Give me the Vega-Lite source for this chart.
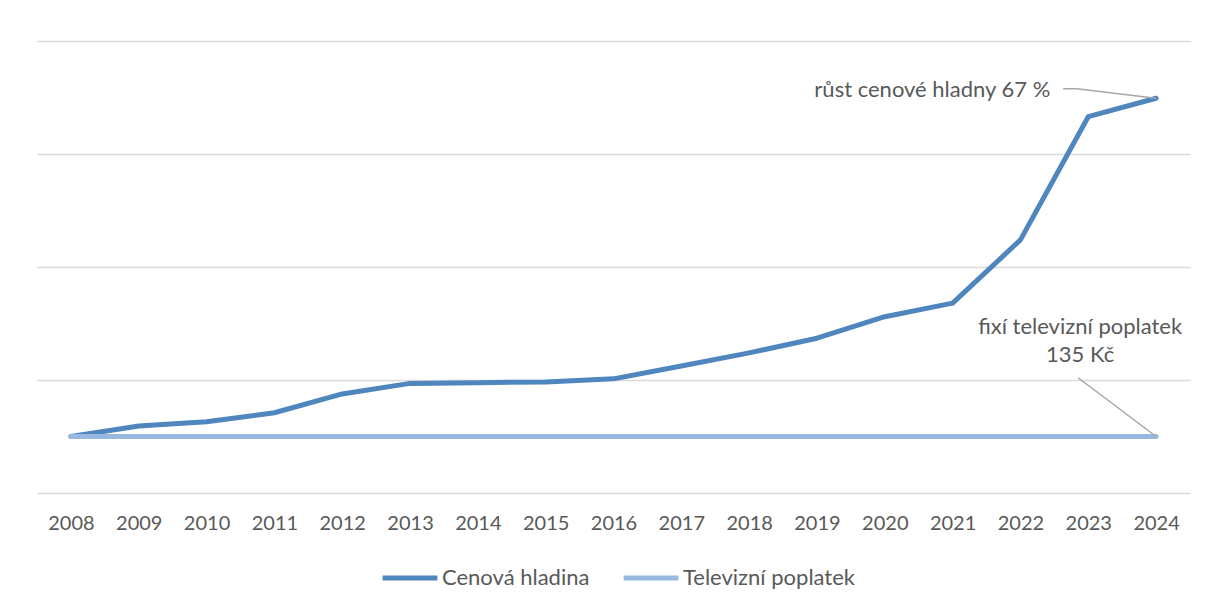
{
  "$schema": "https://vega.github.io/schema/vega-lite/v6.json",
  "width": 1153,
  "height": 452,
  "autosize": {"type": "none"},
  "padding": {"left": 37, "top": 41, "right": 18, "bottom": 115},
  "background": "white",
  "config": {"view": {"stroke": null}, "font": "Lato"},
  "datasets": {
    "series": [
      {"year": 2008, "series": "Cenová hladina", "value": 135.0},
      {"year": 2009, "series": "Cenová hladina", "value": 137.8},
      {"year": 2010, "series": "Cenová hladina", "value": 138.9},
      {"year": 2011, "series": "Cenová hladina", "value": 141.3},
      {"year": 2012, "series": "Cenová hladina", "value": 146.3},
      {"year": 2013, "series": "Cenová hladina", "value": 149.1},
      {"year": 2014, "series": "Cenová hladina", "value": 149.3},
      {"year": 2015, "series": "Cenová hladina", "value": 149.5},
      {"year": 2016, "series": "Cenová hladina", "value": 150.3},
      {"year": 2017, "series": "Cenová hladina", "value": 153.7},
      {"year": 2018, "series": "Cenová hladina", "value": 157.2},
      {"year": 2019, "series": "Cenová hladina", "value": 161.1},
      {"year": 2020, "series": "Cenová hladina", "value": 166.8},
      {"year": 2021, "series": "Cenová hladina", "value": 170.4},
      {"year": 2022, "series": "Cenová hladina", "value": 187.2},
      {"year": 2023, "series": "Cenová hladina", "value": 219.9},
      {"year": 2024, "series": "Cenová hladina", "value": 224.8},
      {"year": 2008, "series": "Televizní poplatek", "value": 135},
      {"year": 2009, "series": "Televizní poplatek", "value": 135},
      {"year": 2010, "series": "Televizní poplatek", "value": 135},
      {"year": 2011, "series": "Televizní poplatek", "value": 135},
      {"year": 2012, "series": "Televizní poplatek", "value": 135},
      {"year": 2013, "series": "Televizní poplatek", "value": 135},
      {"year": 2014, "series": "Televizní poplatek", "value": 135},
      {"year": 2015, "series": "Televizní poplatek", "value": 135},
      {"year": 2016, "series": "Televizní poplatek", "value": 135},
      {"year": 2017, "series": "Televizní poplatek", "value": 135},
      {"year": 2018, "series": "Televizní poplatek", "value": 135},
      {"year": 2019, "series": "Televizní poplatek", "value": 135},
      {"year": 2020, "series": "Televizní poplatek", "value": 135},
      {"year": 2021, "series": "Televizní poplatek", "value": 135},
      {"year": 2022, "series": "Televizní poplatek", "value": 135},
      {"year": 2023, "series": "Televizní poplatek", "value": 135},
      {"year": 2024, "series": "Televizní poplatek", "value": 135}
    ],
    "leaders": [
      {"id": "a", "year": 2022.63, "value": 227.3},
      {"id": "a", "year": 2022.83, "value": 227.3},
      {"id": "a", "year": 2024, "value": 224.8},
      {"id": "b", "year": 2022.85, "value": 150.6},
      {"id": "b", "year": 2024, "value": 135}
    ],
    "labelRight": [
      {"year": 2022.44, "value": 227.0, "text": "růst cenové hladny 67 %"}
    ],
    "labelCenter": [
      {"year": 2022.88, "value": 164.1, "text": "fixí televizní poplatek\n135 Kč"}
    ]
  },
  "layer": [
    {
      "data": {"name": "series"},
      "mark": {"type": "line", "strokeWidth": 5, "strokeCap": "round", "strokeJoin": "round"},
      "encoding": {
        "x": {
          "field": "year", "type": "quantitative",
          "scale": {"domain": [2007.5, 2024.5], "nice": false, "zero": false},
          "axis": {
            "values": [2008, 2009, 2010, 2011, 2012, 2013, 2014, 2015, 2016, 2017, 2018, 2019, 2020, 2021, 2022, 2023, 2024],
            "format": "d", "grid": false, "domain": false, "ticks": false,
            "labelFontSize": 20, "labelColor": "#595959", "labelPadding": 20, "title": null
          }
        },
        "y": {
          "field": "value", "type": "quantitative",
          "scale": {"domain": [120, 240], "nice": false, "zero": false},
          "axis": {
            "values": [120, 150, 180, 210, 240], "labels": false, "ticks": false, "domain": false,
            "gridColor": "#d9d9d9", "gridWidth": 1.5, "title": null
          }
        },
        "color": {
          "field": "series", "type": "nominal",
          "scale": {"domain": ["Cenová hladina", "Televizní poplatek"], "range": ["#4F86BE", "#97B9E0"]},
          "legend": {
            "orient": "none", "legendX": 343, "legendY": 507, "direction": "horizontal",
            "title": null, "symbolType": "stroke", "symbolSize": 3000, "symbolStrokeWidth": 5,
            "labelFontSize": 22, "labelColor": "#595959", "labelOffset": 2, "columnPadding": 23,
            "labelLimit": 400
          }
        }
      }
    },
    {
      "data": {"name": "leaders"},
      "mark": {"type": "line", "stroke": "#a6a6a6", "strokeWidth": 1.5},
      "encoding": {
        "x": {"field": "year", "type": "quantitative"},
        "y": {"field": "value", "type": "quantitative"},
        "detail": {"field": "id"}
      }
    },
    {
      "data": {"name": "labelRight"},
      "mark": {"type": "text", "align": "right", "baseline": "middle", "fontSize": 22, "color": "#595959"},
      "encoding": {
        "x": {"field": "year", "type": "quantitative"},
        "y": {"field": "value", "type": "quantitative"},
        "text": {"field": "text"}
      }
    },
    {
      "data": {"name": "labelCenter"},
      "mark": {"type": "text", "align": "center", "baseline": "middle", "fontSize": 22, "color": "#595959", "lineBreak": "\n", "lineHeight": 28},
      "encoding": {
        "x": {"field": "year", "type": "quantitative"},
        "y": {"field": "value", "type": "quantitative"},
        "text": {"field": "text"}
      }
    }
  ]
}
